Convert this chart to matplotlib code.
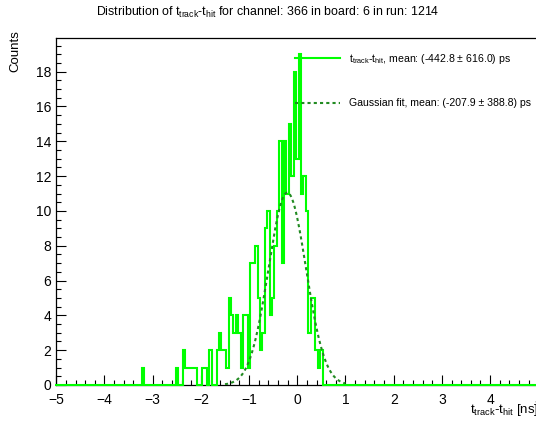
import numpy as np
import matplotlib

matplotlib.use("Agg")
import matplotlib.pyplot as plt
from matplotlib.lines import Line2D
from matplotlib.ticker import MultipleLocator

# ---- data ------------------------------------------------------------------
BIN_WIDTH = 0.05           # ns
FIRST_CENTER = -3.20       # centre of first listed bin (ns)
bin_counts = [
    1,                                          # -3.20
    0, 0, 0, 0, 0, 0, 0, 0, 0, 0, 0, 0, 0,      # -3.15 .. -2.55
    1, 0, 0, 2,                                 # -2.50 .. -2.35
    1, 1, 1, 1, 1,                              # -2.30 .. -2.10
    0, 0, 1, 1, 0, 2, 0, 0,                     # -2.05 .. -1.70
    2, 3, 2, 2, 1,                              # -1.65 .. -1.45
    5, 4, 3, 4, 3, 1,                           # -1.40 .. -1.15
    4, 4, 1, 7, 7, 8, 5, 2, 3,                  # -1.10 .. -0.70
    9, 10, 4, 5, 8, 10,                         # -0.65 .. -0.40
    14, 7, 14, 11, 15, 12, 18, 13, 19,          # -0.35 .. 0.05
    11, 12, 10, 3, 5, 5, 2, 1, 2,               # 0.10 .. 0.50
]

# Gaussian fit (amplitude in counts, mean/sigma in ns)
FIT_AMP = 11.05
FIT_MEAN = -0.2079
FIT_SIGMA = 0.3888
FIT_RANGE = (-1.5, 1.0)

HIST_LABEL = r"t$_{\rm track}$-t$_{\rm hit}$, mean: (-442.8 ± 616.0) ps"
FIT_LABEL = "Gaussian fit, mean: (-207.9 ± 388.8) ps"
TITLE = r"Distribution of t$_{\rm track}$-t$_{\rm hit}$ for channel: 366 in board: 6 in run: 1214"
XLABEL = r"t$_{\rm track}$-t$_{\rm hit}$ [ns]"
YLABEL = "Counts"

# ---- histogram over the full range ------------------------------------------
edges = np.linspace(-5.0 - BIN_WIDTH / 2, 5.0 + BIN_WIDTH / 2, 202)
counts = np.zeros(201)
start = int(round((FIRST_CENTER + 5.0) / BIN_WIDTH))
counts[start:start + len(bin_counts)] = bin_counts

xfit = np.linspace(*FIT_RANGE, 400)
yfit = FIT_AMP * np.exp(-0.5 * ((xfit - FIT_MEAN) / FIT_SIGMA) ** 2)

plt.rcParams.update({
    "font.family": ["Liberation Sans", "DejaVu Sans"],
    "mathtext.fontset": "custom",
    "mathtext.rm": "Liberation Sans",
    "mathtext.it": "Liberation Sans:italic",
    "mathtext.bf": "Liberation Sans:bold",
})

fig = plt.figure(figsize=(5.36, 4.21), dpi=100)
ax = fig.add_axes([56.3 / 536, 36 / 421, 482 / 536, 347.3 / 421])

ax.stairs(counts, edges, color="#00ff00", lw=1.5, zorder=3, clip_on=False)
ax.plot(xfit, yfit, color="#228b22", lw=1.5, dashes=(1.5, 1.5), zorder=4)

ax.set_xlim(-5, 5)
ax.set_ylim(0, 19.95)

ax.xaxis.set_major_locator(MultipleLocator(1))
ax.xaxis.set_minor_locator(MultipleLocator(0.2))
ax.yaxis.set_major_locator(MultipleLocator(2))
ax.yaxis.set_minor_locator(MultipleLocator(0.5))
ax.tick_params(which="both", direction="in", top=False, right=False, labelsize=10)
ax.tick_params(which="major", length=7, width=0.8)
ax.tick_params(which="minor", length=3.5, width=0.8)
ax.tick_params(axis="x", pad=5.5)
ax.tick_params(axis="y", pad=3.5)
for sp in ax.spines.values():
    sp.set_linewidth(0.9)

ax.set_xlabel(XLABEL, fontsize=9.5, loc="right")
ax.xaxis.set_label_coords(1.0, -0.05)
ax.xaxis.label.set_va("top")
ax.set_ylabel(YLABEL, fontsize=9.5, loc="top")
ax.yaxis.set_label_coords(-0.072, 1.022)

fig.text(0.5, 1 - 12 / 421, TITLE, ha="center", va="center", fontsize=8.9)

handles = [
    Line2D([], [], color="#00ff00", lw=1.5),
    Line2D([], [], color="#228b22", lw=1.5, dashes=(1.5, 1.5)),
]
ax.legend(handles, [HIST_LABEL, FIT_LABEL], loc="upper left",
          bbox_to_anchor=(295 / 536, 1 - 52 / 421), bbox_transform=fig.transFigure,
          frameon=False, fontsize=7.6, borderpad=0, borderaxespad=0,
          handlelength=4.25, handletextpad=0.85, labelspacing=3.05)

fig.savefig("out.png", dpi=100)
